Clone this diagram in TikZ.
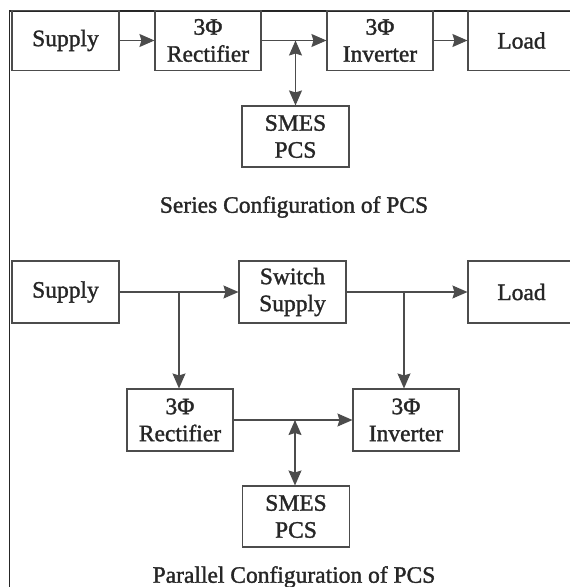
\documentclass[tikz,border=0pt]{standalone}
\usepackage{fontspec}
\setmainfont{Liberation Serif}
\newfontfamily\diagfont{Liberation Serif}[FakeBold=1.4]
\usetikzlibrary{arrows.meta}
\begin{document}
\begin{tikzpicture}[x=1pt,y=-1pt,
  txt/.style={font=\diagfont\fontsize{23.5}{27}\selectfont, text=black!85},
  blk/.style={txt, draw=black!70, line width=1.1pt, inner sep=0pt, align=center,
              minimum width=107pt, minimum height=60pt},
  flow/.style={draw=black!70, line width=1.1pt,
               -{Stealth[length=15pt,width=13pt,inset=2pt]}},
  biflow/.style={draw=black!70, line width=1.1pt,
               {Stealth[length=15pt,width=13pt,inset=2pt]}-{Stealth[length=15pt,width=13pt,inset=2pt]}},
  frame/.style={draw=black!85, line width=1.6pt}]
\useasboundingbox (0,0) rectangle (570,587);
\fill[white] (0,0) rectangle (570,587);

% outer frame (left and top edges)
\draw[frame] (9.5,587) -- (9.5,11) -- (570,11);

% ---- series configuration ----
\node[blk] (sup1) at (65.5,40.5) {Supply};
\node[blk, minimum width=106pt] (rec1) at (208,40.5) {3Φ\\Rectifier};
\node[blk, minimum width=106pt] (inv1) at (380,40.5) {3Φ\\Inverter};
\node[blk] (load1) at (521.5,40.5) {Load};
\node[blk, minimum height=61pt] (smes1) at (295.5,136.5) {SMES\\PCS};
\node[txt] (cap1) at (294,207) {Series Configuration of PCS};

\draw[flow] (sup1.east) -- (rec1.west);
\draw[flow] (rec1.east) -- (inv1.west);
\draw[flow] (inv1.east) -- (load1.west);
\coordinate (j1) at (smes1.north |- rec1.east);
\draw[biflow] (j1) -- (smes1.north);

% ---- parallel configuration ----
\node[blk, minimum height=62pt] (sup2) at (65.5,292) {Supply};
\node[blk, minimum height=62pt] (sw) at (292.5,292) {Switch\\Supply};
\node[blk, minimum height=62pt] (load2) at (521.5,292) {Load};
\node[blk, minimum width=106pt, minimum height=62pt] (rec2) at (180,420) {3Φ\\Rectifier};
\node[blk, minimum width=106pt, minimum height=62pt] (inv2) at (406,420) {3Φ\\Inverter};
\node[blk, minimum height=61pt] (smes2) at (296,516.5) {SMES\\PCS};
\node[txt] (cap2) at (294,577) {Parallel Configuration of PCS};

\draw[flow] (sup2.east) -- (sw.west);
\draw[flow] (sw.east) -- (load2.west);
\coordinate (j2) at (179,292);
\coordinate (j3) at (404,292);
\draw[flow] (j2) -- (j2 |- rec2.north);
\draw[flow] (j3) -- (j3 |- inv2.north);
\draw[flow] (rec2.east) -- (inv2.west);
\coordinate (j4) at (295,420);
\draw[biflow] (j4) -- (j4 |- smes2.north);
\end{tikzpicture}
\end{document}
